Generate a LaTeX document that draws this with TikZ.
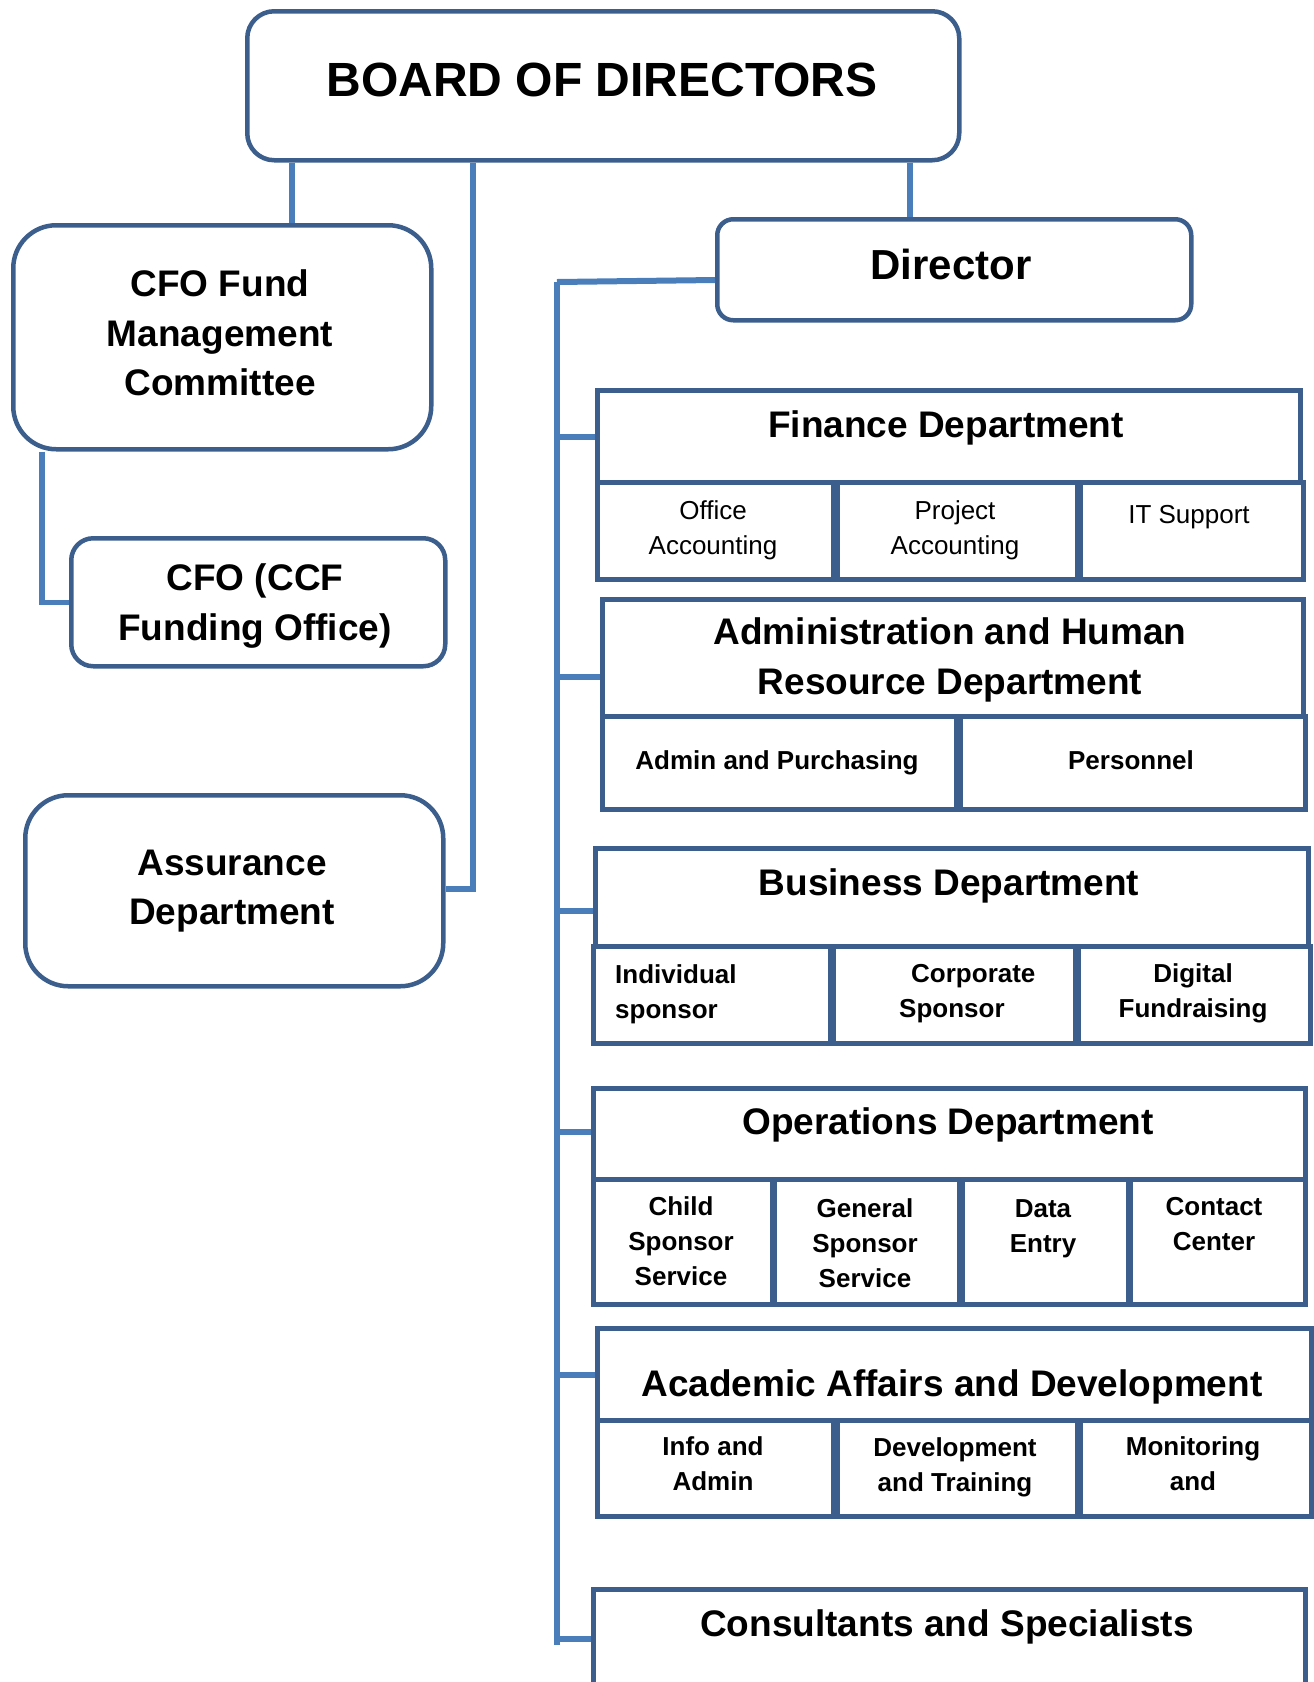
\documentclass[tikz,border=0pt]{standalone}
\usepackage{fontspec}
\setmainfont{Liberation Sans}
\definecolor{boxc}{HTML}{3B5E8C}
\definecolor{linec}{HTML}{4A7EBB}
\begin{document}
\begin{tikzpicture}[x=1pt,y=-1pt,
  rbox/.style={draw=boxc, line width=4.5pt, rounded corners=#1, inner sep=0pt, anchor=north west},
  dbox/.style={draw=boxc, line width=4.5pt, inner sep=0pt, anchor=north west},
  sz/.style 2 args={minimum width=#1pt, minimum height=#2pt},
  conn/.style={draw=linec, line width=5.5pt},
  stub/.style={draw=linec, line width=6pt},
  big/.style={font=\bfseries\fontsize{48}{56}\selectfont, inner sep=0pt},
  dirt/.style={font=\bfseries\fontsize{42}{50}\selectfont, inner sep=0pt},
  head/.style={font=\bfseries\fontsize{37}{49.5}\selectfont, align=center, inner sep=0pt},
  sub/.style={font=\fontsize{26}{35}\selectfont, align=center, inner sep=0pt},
  subb/.style={font=\bfseries\fontsize{26}{35}\selectfont, align=center, inner sep=0pt}
]
\useasboundingbox (0,0) rectangle (1314,1682);
\clip (0,0) rectangle (1314,1682);

% ---- left / top boxes
\node[rbox=27pt, sz={712}{149}] (board) at (245,9) {};
\node[big] (boardt) at (602,80) {BOARD OF DIRECTORS};

\node[rbox=43pt, sz={418}{224}] (cfofund) at (11,223) {};
\node[head] (cfofundt) at (220,333) {CFO Fund\\Management\\Committee};

\node[rbox=22pt, sz={374}{128}] (cfo) at (69,536) {};
\node[head] (cfot) at (255,606) {CFO (CCF\\Funding Office)};

\node[rbox=43pt, sz={418}{191}] (assur) at (23,793) {};
\node[head] (assurt) at (232,891) {Assurance\\Department};

\node[rbox=16pt, sz={474}{101}] (director) at (715,217) {};
\node[dirt] (directort) at (951,264) {Director};

% ---- Finance
\node[dbox, sz={703}{92}] (finh) at (595,388) {};
\node[head] (finht) at (946,428) {Finance Department};
\node[dbox, sz={236}{97}] (fin1) at (595,480) {};
\node[dbox, sz={240}{97}] (fin2) at (835,480) {};
\node[dbox, sz={223}{97}] (fin3) at (1078,480) {};
\node[sub] (fin1t) at (713,530) {Office\\Accounting};
\node[sub] (fin2t) at (955,530) {Project\\Accounting};
\node[sub] (fin3t) at (1189,517) {IT Support};

% ---- Administration
\node[dbox, sz={701}{117}] (admh) at (600,597) {};
\node[head] (admht) at (950,660) {Administration and Human\\Resource Department};
\node[dbox, sz={354}{93}] (adm1) at (600,714) {};
\node[dbox, sz={345}{93}] (adm2) at (958,714) {};
\node[subb] (adm1t) at (777,763) {Admin and Purchasing};
\node[subb] (adm2t) at (1131,760) {Personnel};

% ---- Business
\node[dbox, sz={713}{98}] (bush) at (593,846) {};
\node[head] (busht) at (949,886) {Business Department};
\node[dbox, sz={237}{97}] (bus1) at (591,944) {};
\node[dbox, sz={242}{97}] (bus2) at (831,944) {};
\node[dbox, sz={232}{97}] (bus3) at (1076,944) {};
\node[subb, align=left, anchor=west] (bus1t) at (615,994) {Individual\\sponsor};
\node[subb, align=left, anchor=west] (bus2t) at (899,994) {\hspace*{12pt}Corporate\\Sponsor};
\node[subb] (bus3t) at (1193,993) {Digital\\Fundraising};

% ---- Operations
\node[dbox, sz={712}{91}] (opsh) at (591,1086) {};
\node[head] (opsht) at (948,1125) {Operations Department};
\node[dbox, sz={179}{125}] (ops1) at (591,1177) {};
\node[dbox, sz={185}{125}] (ops2) at (772,1177) {};
\node[dbox, sz={166}{125}] (ops3) at (960,1177) {};
\node[dbox, sz={175}{125}] (ops4) at (1128,1177) {};
\node[subb] (ops1t) at (681,1241) {Child\\Sponsor\\Service};
\node[subb] (ops2t) at (865,1243) {General\\Sponsor\\Service};
\node[subb] (ops3t) at (1043,1229) {Data\\Entry};
\node[subb] (ops4t) at (1214,1224) {Contact\\Center};

% ---- Academic
\node[dbox, sz={714}{92}] (acah) at (595,1326) {};
\node[head] (acaht) at (952,1387) {Academic Affairs and Development};
\node[dbox, sz={236}{96}] (aca1) at (595,1418) {};
\node[dbox, sz={240}{96}] (aca2) at (835,1418) {};
\node[dbox, sz={231}{96}] (aca3) at (1078,1418) {};
\node[subb] (aca1t) at (713,1464) {Info and\\Admin};
\node[subb] (aca2t) at (955,1467) {Development\\and Training};
\node[subb] (aca3t) at (1193,1464) {Monitoring\\and};

% ---- Consultants
\node[dbox, sz={712}{130}] (cons) at (591,1587) {};
\node[head] (const) at (947,1627) {Consultants and Specialists};

% ---- connector coordinates
\coordinate (xc1) at (292,0);
\coordinate (xc2) at (473,0);
\coordinate (xc3) at (910,0);
\coordinate (xc4) at (42,0);
\coordinate (yass) at (0,889);
\coordinate (ydir) at (0,280);
\coordinate (spinetop) at (557,282);
\coordinate (spinebot) at (557,1645);
\coordinate (s1) at (557,437);
\coordinate (s2) at (557,677);
\coordinate (s3) at (557,911);
\coordinate (s4) at (557,1132);
\coordinate (s5) at (557,1375);
\coordinate (s6) at (557,1639);

% ---- connectors
\draw[conn] (board.south -| xc1) -- (cfofund.north -| xc1);
\draw[conn] (assur.east |- yass) -| (board.south -| xc2);
\draw[conn] (board.south -| xc3) -- (director.north -| xc3);
\draw[conn] (cfofund.south -| xc4) |- (cfo.west);
\draw[stub] (director.west |- ydir) -- (spinetop);
\draw[conn] (spinetop) -- (spinebot);
\draw[stub] (s1) -- (finh.west |- s1);
\draw[stub] (s2) -- (admh.west |- s2);
\draw[stub] (s3) -- (bush.west |- s3);
\draw[stub] (s4) -- (opsh.west |- s4);
\draw[stub] (s5) -- (acah.west |- s5);
\draw[stub] (s6) -- (cons.west |- s6);
\end{tikzpicture}
\end{document}
